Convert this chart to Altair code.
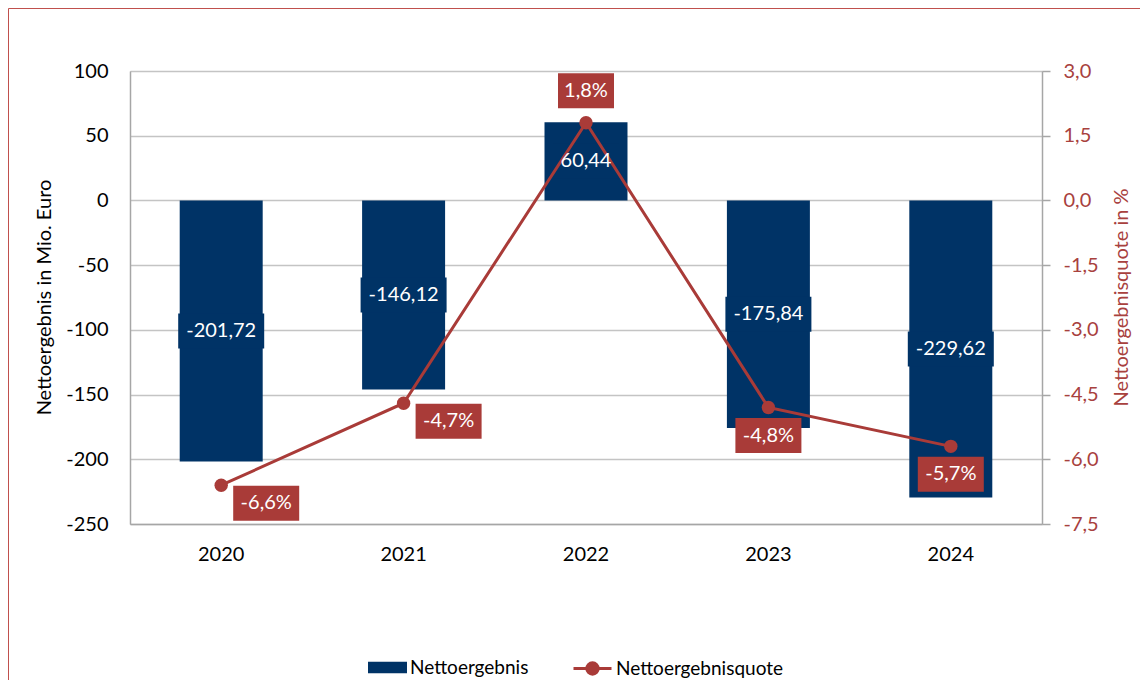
import altair as alt
import pandas as pd

# ---- data ----
years = ["2020", "2021", "2022", "2023", "2024"]
nettoergebnis = [-201.72, -146.12, 60.44, -175.84, -229.62]
quote = [-6.6, -4.7, 1.8, -4.8, -5.7]
quote_label_side = ["right", "right", "above", "below", "below"]

left_ticks = [-250, -200, -150, -100, -50, 0, 50, 100]
right_ticks = [-7.5, -6.0, -4.5, -3.0, -1.5, 0.0, 1.5, 3.0]

NAVY = "#003366"
RED = "#A93B38"
RED_TXT = "#A8413E"
GRID = "#c4c4c4"
AXIS = "#a6a6a6"
FONT = "Lato"

df = pd.DataFrame({"Jahr": years, "Wert": nettoergebnis, "Quote": quote, "Seite": quote_label_side})
base = alt.Chart(df)

x_enc = alt.X(
    "Jahr:N", title=None,
    scale=alt.Scale(paddingInner=0.545, paddingOuter=0.2725),
    axis=alt.Axis(labelAngle=0, labelFontSize=20, labelFont=FONT, labelColor="#000000",
                  labelPadding=20, ticks=False, domainColor=AXIS, domainWidth=1.5, grid=False),
)

Y1 = alt.Scale(domain=[-250, 100], nice=False, zero=False)
Y2 = alt.Scale(domain=[-7.5, 3], nice=False, zero=False)

de_num2 = "(datum.Wert < 0 ? '-' : '') + replace(format(abs(datum.Wert), '.2f'), '.', ',')"
de_pct1 = "(datum.Quote < 0 ? '-' : '') + replace(format(abs(datum.Quote), '.1f'), '.', ',') + '%'"

# border around the whole graphic
border = alt.Chart(pd.DataFrame({"a": [0]})).mark_rect(
    fill="transparent", stroke="#C0504D", strokeWidth=1
).encode(x=alt.value(-121.5), x2=alt.value(1100), y=alt.value(-62.5), y2=alt.value(700))

bars = base.transform_calculate(serie="'Nettoergebnis'").mark_bar().encode(
    x=x_enc,
    y=alt.Y("Wert:Q", scale=Y1,
            axis=alt.Axis(values=left_ticks, labelExpr="'' + datum.value", labelFontSize=20,
                          labelFont=FONT, labelColor="#000000", labelPadding=22, ticks=False,
                          domainColor=AXIS, domainWidth=1.5, grid=True, gridColor=GRID, gridWidth=1.5,
                          title="Nettoergebnis in Mio. Euro", titleFontSize=20, titleFont=FONT,
                          titleFontWeight="normal", titleColor="#000000",
                          titleAngle=270, titleX=-86, titleY=226, titleAlign="center",
                          titleBaseline="middle")),
    color=alt.Color("serie:N", scale=alt.Scale(domain=["Nettoergebnis"], range=[NAVY]),
                    legend=alt.Legend(orient="none", legendX=238, legendY=577, title=None,
                                      symbolType="M-1,-0.3L1,-0.3L1,0.3L-1,0.3Z", symbolSize=1521,
                                      symbolStrokeWidth=0, labelFontSize=19, labelFont=FONT,
                                      labelColor="#000000", labelOffset=3, labelLimit=400)),
)

bar_box = base.transform_calculate(
    lbl=de_num2,
    w="length(datum.lbl) * 10 + 16",
    lo="datum.Wert / 2 - 13.5",
    hi="datum.Wert / 2 + 13.5",
).mark_bar(color=NAVY).encode(
    x=x_enc,
    y=alt.Y("lo:Q", scale=Y1, axis=None),
    y2="hi:Q",
    size=alt.Size("w:Q", scale=None, legend=None),
)

bar_text = base.transform_calculate(lbl=de_num2, mid="datum.Wert / 2").mark_text(
    color="white", fontSize=20, font=FONT, baseline="middle", align="center"
).encode(x=x_enc, y=alt.Y("mid:Q", scale=Y1, axis=None), text="lbl:N")

line = base.transform_calculate(serie2="'Nettoergebnisquote'").mark_line(strokeWidth=3).encode(
    x=x_enc,
    y=alt.Y("Quote:Q", scale=Y2,
            axis=alt.Axis(orient="right", values=right_ticks,
                          labelExpr="(datum.value < 0 ? '-' : '') + replace(format(abs(datum.value), '.1f'), '.', ',')",
                          labelFontSize=20, labelFont=FONT, labelColor=RED_TXT, labelPadding=13,
                          tickSize=8, tickColor=AXIS, tickWidth=1.5, domainColor=AXIS, domainWidth=1.5,
                          grid=False, title="Nettoergebnisquote  in %", titleFontSize=20, titleFont=FONT,
                          titleFontWeight="normal", titleColor=RED_TXT, titleAngle=270,
                          titleX=79, titleY=226, titleAlign="center", titleBaseline="middle")),
    stroke=alt.Stroke("serie2:N", scale=alt.Scale(domain=["Nettoergebnisquote"], range=[RED]),
                      legend=alt.Legend(orient="none", legendX=442, legendY=577, title=None,
                                        symbolType="M-1,0L1,0M0.3,0A0.3,0.3,0,1,1,-0.3,0A0.3,0.3,0,1,1,0.3,0",
                                        symbolSize=1444, symbolStrokeWidth=3, symbolFillColor=RED,
                                        labelFontSize=19, labelFont=FONT, labelColor="#000000",
                                        labelOffset=3, labelLimit=400)),
)

points = base.mark_circle(color=RED, size=180, opacity=1).encode(
    x=x_enc, y=alt.Y("Quote:Q", scale=Y2, axis=None)
)

offsets = {"right": (45, 18), "above": (0, -32), "below": (0, 28)}
q_layers = []
for side, (dx, dy) in offsets.items():
    sub = base.transform_filter(f"datum.Seite == '{side}'").transform_calculate(
        lbl=de_pct1,
        w="length(datum.lbl) * 10 + 16",
        lo="datum.Quote - 0.406",
        hi="datum.Quote + 0.406",
    )
    q_layers.append(
        sub.mark_bar(color=RED, xOffset=dx, yOffset=dy, y2Offset=dy).encode(
            x=x_enc, y=alt.Y("lo:Q", scale=Y2, axis=None), y2="hi:Q",
            size=alt.Size("w:Q", scale=None, legend=None),
        )
    )
    q_layers.append(
        sub.mark_text(color="white", fontSize=20, font=FONT, baseline="middle", align="center",
                      xOffset=dx, yOffset=dy).encode(
            x=x_enc, y=alt.Y("Quote:Q", scale=Y2, axis=None), text="lbl:N"
        )
    )

chart = alt.layer(border, bars, bar_box, line, points, bar_text, *q_layers).resolve_scale(
    y="independent"
).properties(
    width=912, height=453,
    autosize=alt.AutoSizeParams(type="none"),
    padding={"left": 122, "top": 63, "right": 98, "bottom": 156},
).configure_view(stroke=None).configure(font=FONT)

chart.save("out.html", embed_options={"renderer": "svg", "actions": False})
